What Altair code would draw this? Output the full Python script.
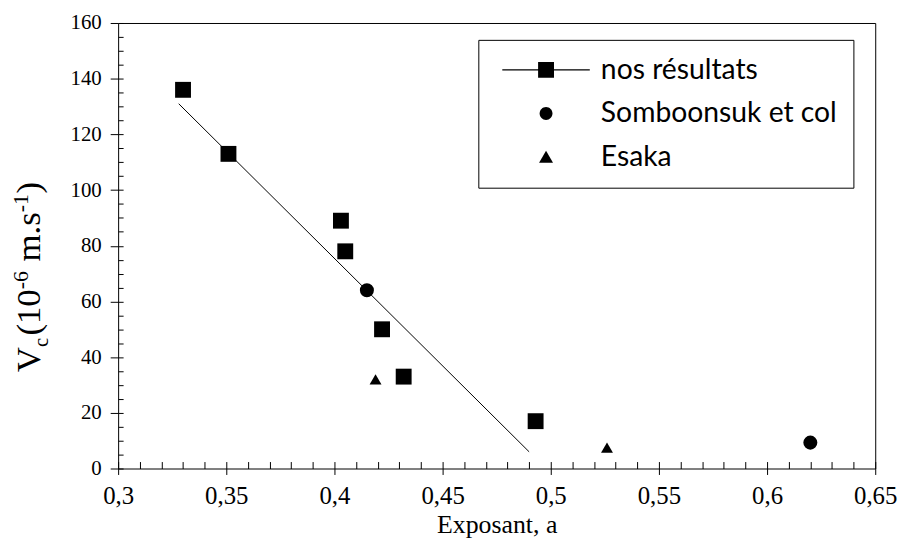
import altair as alt
import pandas as pd

# ---------------- data ----------------
series_names = ["nos résultats", "Somboonsuk et col", "Esaka"]

nos_x = [0.330, 0.351, 0.403, 0.405, 0.422, 0.432, 0.493]
nos_y = [136, 113, 89, 78, 50, 33, 17]

somb_x = [0.415, 0.620]
somb_y = [64, 9.3]

esaka_x = [0.419, 0.526]
esaka_y = [32, 7.5]

fit_x = [0.328, 0.490]
fit_y = [131, 6]

x_major = [0.3, 0.35, 0.4, 0.45, 0.5, 0.55, 0.6, 0.65]
x_minor = [round(0.30 + 0.01 * i, 2) for i in range(36)]
y_major = [0, 20, 40, 60, 80, 100, 120, 140, 160]
y_minor = [5 * i for i in range(33)]

# ---------------- tables ----------------
pts = pd.DataFrame(
    {
        "x": nos_x + somb_x + esaka_x,
        "y": nos_y + somb_y + esaka_y,
        "series": [series_names[0]] * len(nos_x)
        + [series_names[1]] * len(somb_x)
        + [series_names[2]] * len(esaka_x),
    }
)
fit = pd.DataFrame({"x": fit_x, "y": fit_y})

SERIF = "Liberation Serif, Times New Roman, serif"
W, H = 763, 449

xscale = alt.Scale(domain=[0.3, 0.65], zero=False, nice=False)
yscale = alt.Scale(domain=[0, 160], zero=False, nice=False)

main_x_axis = alt.Axis(
    values=x_major,
    labelExpr="replace(format(datum.value, '.2~f'), '.', ',')",
    labelFlush=False,
    labelOverlap=False,
    labelBound=False,
    labelFont=SERIF,
    labelFontSize=25,
    labelColor="black",
    labelPadding=9,
    tickSize=6,
    tickColor="black",
    domain=False,
    grid=False,
    title="Exposant, a",
    titleFont=SERIF,
    titleFontSize=26,
    titleFontWeight="normal",
    titleColor="black",
    titlePadding=3,
    orient="bottom",
)
main_y_axis = alt.Axis(
    values=y_major,
    labelFont=SERIF,
    labelFontSize=21,
    labelColor="black",
    labelPadding=9,
    labelFlush=False,
    labelOverlap=False,
    tickSize=8,
    tickColor="black",
    domain=False,
    grid=False,
    title=None,
    orient="left",
)
minor_x_axis = alt.Axis(
    values=x_minor,
    labels=False,
    domain=False,
    grid=False,
    tickSize=7,
    offset=-7,
    tickColor="black",
    title=None,
    orient="bottom",
)
minor_y_axis = alt.Axis(
    values=y_minor,
    labels=False,
    domain=False,
    grid=False,
    tickSize=5,
    offset=-5,
    tickColor="black",
    title=None,
    orient="left",
)

line = (
    alt.Chart(fit)
    .mark_line(color="black", strokeWidth=1)
    .encode(
        x=alt.X("x:Q", scale=xscale, axis=main_x_axis),
        y=alt.Y("y:Q", scale=yscale, axis=main_y_axis),
    )
)

points = (
    alt.Chart(pts)
    .mark_point(filled=True, color="black", opacity=1)
    .encode(
        x=alt.X("x:Q", scale=xscale, axis=minor_x_axis),
        y=alt.Y("y:Q", scale=yscale, axis=minor_y_axis),
        shape=alt.Shape(
            "series:N",
            scale=alt.Scale(domain=series_names, range=["square", "circle", "triangle-up"]),
            legend=None,
        ),
        size=alt.Size(
            "series:N",
            scale=alt.Scale(domain=series_names, range=[256, 144, 150]),
            legend=None,
        ),
    )
)

legend_paths = [
    "M-4.9,-0.06H4.9V0.06H-4.9Z M-0.89,-0.89H0.89V0.89H-0.89Z",
    "M-0.72,0A0.72,0.72,0,1,0,0.72,0A0.72,0.72,0,1,0,-0.72,0Z",
    "M0,-0.72L0.78,0.62L-0.78,0.62Z",
]

legend_layer = (
    alt.Chart(pts)
    .transform_filter("false")
    .mark_point(filled=True, color="black", opacity=1)
    .encode(
        x=alt.value(0),
        y=alt.value(0),
        shape=alt.Shape(
            "series:N",
            scale=alt.Scale(domain=series_names, range=legend_paths),
            legend=alt.Legend(
                title=None,
                orient="none",
                legendX=363,
                legendY=17,
                padding=16,
                strokeColor="black",
                fillColor="white",
                symbolSize=324,
                symbolFillColor="black",
                symbolStrokeWidth=0,
                symbolOffset=38,
                labelFont="Lato",
                labelFontSize=28.5,
                labelColor="black",
                labelOffset=41,
                rowPadding=15,
                labelLimit=400,
            ),
        ),
    )
)

blank = alt.Data(values=[{}])


def ytext(txt, size, xpx, ypx):
    return (
        alt.Chart(blank)
        .mark_text(
            angle=270,
            align="left",
            baseline="alphabetic",
            font=SERIF,
            fontSize=size,
            color="black",
        )
        .encode(x=alt.value(xpx), y=alt.value(ypx), text=alt.value(txt))
    )


# y-axis title "V_c (10^-6 m.s^-1)" assembled piece by piece (rotated text)
BIG, SUP = 35, 22
BASE_X, SUB_X, SUP_X = -79, -71, -91
pieces = [
    ("V", BIG, BASE_X, 25.5),
    ("c", 21, SUB_X, 11.5),
    ("(10", BIG, BASE_X, 46.7),
    ("-6", SUP, SUP_X, 20.0),
    ("m.s", BIG, BASE_X, 49.5),
    ("-1", SUP, SUP_X, 19.0),
    (")", BIG, BASE_X, 12.0),
]
ytitle_layers = []
cursor = 352
for txt, size, xpx, adv in pieces:
    ytitle_layers.append(ytext(txt, size, xpx, cursor))
    cursor -= adv
    if txt == "-6":
        cursor -= 8  # word space before "m.s"

chart = (
    alt.layer(line, points, legend_layer, *ytitle_layers)
    .resolve_axis(x="independent", y="independent")
    .resolve_scale(shape="independent", size="independent")
    .properties(
        width=W,
        height=H,
        background="white",
        autosize=alt.AutoSizeParams(type="none"),
        padding={"left": 111, "top": 13, "right": 29, "bottom": 78},
    )
    .configure(style={"guide-label": {"font": SERIF, "fill": "black"}})
    .configure_view(stroke="black", strokeWidth=1)
    .configure_axis(
        labelFont=SERIF,
        labelColor="black",
        titleFont=SERIF,
        titleColor="black",
        titleFontWeight="normal",
        tickColor="black",
        tickWidth=1,
    )
)

chart.save("out.html", embed_options={"renderer": "svg", "actions": False})
